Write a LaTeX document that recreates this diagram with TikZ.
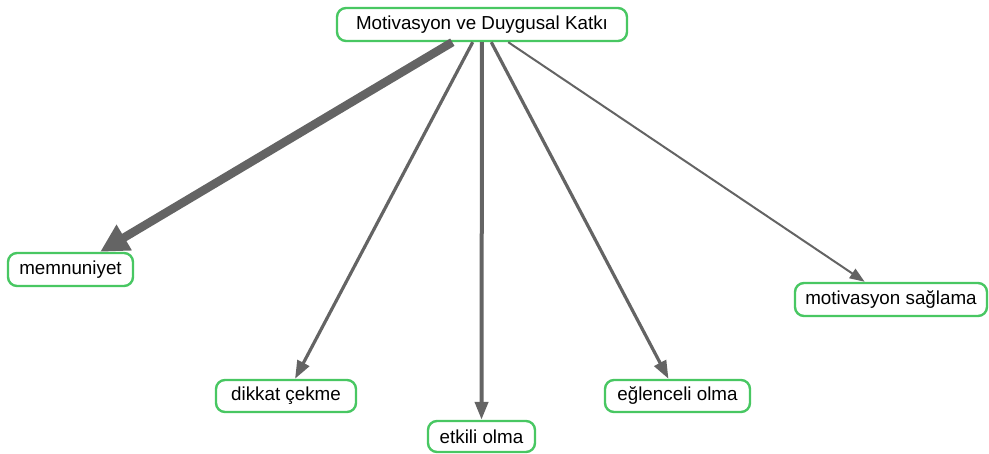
\documentclass[tikz,border=0pt]{standalone}
\usepackage{fontspec}
\setmainfont{Liberation Sans}
\usetikzlibrary{arrows.meta}
\definecolor{boxgreen}{RGB}{72,199,98}
\definecolor{linkgray}{RGB}{100,100,100}
\begin{document}
\begin{tikzpicture}[x=1pt,y=-1pt,
  concept/.style={draw=boxgreen, line width=2.4pt, rounded corners=9pt, fill=white,
    text=black, font=\fontsize{18.8}{22}\selectfont, inner sep=0pt, align=center},
  link/.style={draw=linkgray, line width=#1},
  link/.default=3pt]
\useasboundingbox (0,0) rectangle (989,454);

% concept boxes
\node[concept, minimum width=290pt, minimum height=33pt] (root) at (482,24.5) {Motivasyon ve Duygusal Katkı};
\node[concept, minimum width=125pt, minimum height=33pt] (memn) at (70.5,269.5) {memnuniyet};
\node[concept, minimum width=140pt, minimum height=32pt] (dikkat) at (286,396) {dikkat çekme};
\node[concept, minimum width=107pt, minimum height=31pt] (etkili) at (481.5,436.5) {etkili olma};
\node[concept, minimum width=145pt, minimum height=32pt] (eglen) at (677.5,396) {eğlenceli olma};
\node[concept, minimum width=192pt, minimum height=33pt] (motiv) at (891,299.5) {motivasyon sağlama};

% weighted connectors
\draw[link=8.5pt, -{Triangle[length=28pt,width=28pt]}] (root) -- (memn);
\draw[link=3.2pt, -{Triangle[length=18pt,width=13pt]}] (root) -- (dikkat);
\draw[link=4pt, -{Triangle[length=18pt,width=13pt]}] (root) -- (etkili);
\draw[link=3.2pt, -{Triangle[length=18pt,width=13pt]}] (root) -- (eglen);
\draw[link=2pt, -{Triangle[length=15pt,width=11pt]}] (root) -- (motiv);
\end{tikzpicture}
\end{document}
